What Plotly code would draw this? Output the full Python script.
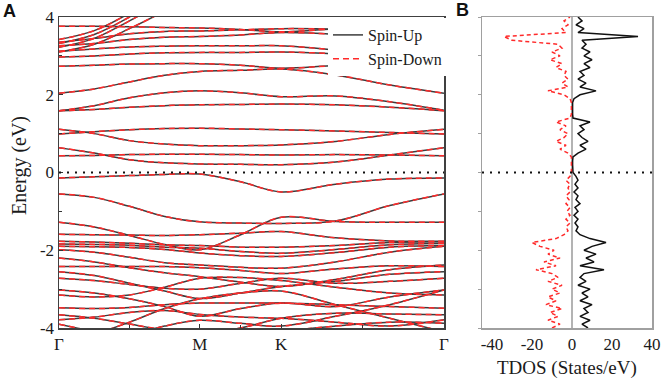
import plotly.graph_objects as go

# ---------------- band structure data (energy in eV along k-path) ----------------
k_path = [0.0, 0.25, 0.5, 0.75, 1.0, 1.289, 1.577, 1.962, 2.347, 2.732]
k_ticks = [0.0, 1.0, 1.577, 2.732]
k_labels = ['Γ', 'M', 'K', 'Γ']
k_minor = [0.5, 1.289, 2.155]

# conduction bands
cb_01 = [0.64, 0.50, 0.33, 0.25, 0.22, 0.21, 0.20, 0.27, 0.45, 0.64]
cb_02 = [0.43, 0.44, 0.46, 0.47, 0.47, 0.46, 0.45, 0.46, 0.45, 0.43]
cb_03 = [1.11, 1.00, 0.82, 0.73, 0.69, 0.69, 0.71, 0.80, 0.98, 1.11]
cb_04 = [0.99, 1.05, 1.10, 1.13, 1.14, 1.12, 1.10, 1.07, 1.03, 0.99]
cb_05 = [1.59, 1.62, 1.68, 1.72, 1.74, 1.75, 1.76, 1.74, 1.68, 1.59]
cb_06 = [1.59, 1.72, 1.92, 2.05, 2.10, 2.05, 1.95, 1.97, 1.82, 1.60]
cb_07 = [2.04, 2.15, 2.33, 2.50, 2.60, 2.63, 2.66, 2.51, 2.25, 2.04]
cb_08 = [2.73, 2.76, 2.79, 2.80, 2.80, 2.76, 2.68, 2.75, 2.79, 2.77]
cb_09 = [2.97, 3.00, 3.05, 3.08, 3.09, 3.09, 3.10, 3.05, 2.92, 2.79]
cb_10 = [3.12, 3.18, 3.23, 3.25, 3.26, 3.26, 3.26, 3.15, 3.00, 2.90]
cb_11 = [3.26, 3.32, 3.42, 3.48, 3.50, 3.54, 3.60, 3.55, 3.40, 3.20]
cb_12 = [3.35, 3.45, 3.57, 3.63, 3.64, 3.67, 3.70, 3.68, 3.58, 3.45]
cb_13 = [3.76, 3.76, 3.75, 3.73, 3.72, 3.68, 3.62, 3.70, 3.80, 3.85]
cb_14 = [3.10, 3.30, 3.70, 4.15, 4.60, 4.90, 5.10, 4.90, 4.50, 4.10]
cb_15 = [3.22, 3.45, 3.90, 4.40, 4.80, 5.10, 5.30, 5.10, 4.80, 4.40]
cb_16 = [3.32, 3.55, 4.00, 4.55, 5.00, 5.30, 5.50, 5.30, 5.00, 4.60]
cb_17 = [3.42, 3.65, 4.10, 4.70, 5.20, 5.50, 5.70, 5.50, 5.20, 4.80]

# valence bands
vb_01 = [-0.14, -0.11, -0.08, -0.05, -0.04, -0.24, -0.50, -0.30, -0.17, -0.14]
vb_02 = [-0.55, -0.64, -0.87, -1.13, -1.27, -1.30, -1.31, -1.25, -0.85, -0.55]
vb_03 = [-1.28, -1.40, -1.62, -1.85, -1.99, -1.60, -1.15, -1.26, -1.28, -1.28]
vb_04 = [-1.59, -1.60, -1.61, -1.62, -1.60, -1.56, -1.52, -1.68, -1.76, -1.77]
vb_05 = [-1.77, -1.79, -1.82, -1.86, -1.88, -1.92, -1.92, -1.88, -1.80, -1.78]
vb_06 = [-1.84, -1.85, -1.87, -1.92, -1.95, -2.03, -2.08, -1.98, -1.86, -1.82]
vb_07 = [-1.90, -1.91, -1.93, -1.98, -2.07, -2.14, -2.16, -2.06, -1.92, -1.88]
vb_08 = [-1.99, -2.05, -2.18, -2.32, -2.38, -2.44, -2.46, -2.30, -2.05, -1.90]
vb_09 = [-2.20, -2.30, -2.45, -2.58, -2.68, -2.82, -2.93, -2.75, -2.50, -2.38]
vb_10 = [-2.42, -2.42, -2.42, -2.42, -2.45, -2.52, -2.60, -2.48, -2.40, -2.42]
vb_11 = [-2.55, -2.65, -2.85, -3.05, -3.24, -3.10, -2.93, -2.80, -2.62, -2.55]
vb_12 = [-2.72, -2.78, -2.88, -2.98, -3.00, -2.85, -2.72, -2.85, -2.80, -2.72]
vb_13 = [-3.02, -3.10, -3.25, -3.45, -3.70, -3.50, -3.36, -3.45, -3.20, -3.02]
vb_14 = [-3.15, -3.20, -3.15, -2.95, -2.72, -2.70, -2.78, -2.95, -3.10, -3.15]
vb_15 = [-3.48, -3.50, -3.47, -3.40, -3.36, -3.36, -3.36, -3.40, -3.45, -3.49]
vb_16 = [-3.66, -3.75, -3.90, -4.05, -4.15, -4.00, -3.75, -3.62, -3.64, -3.66]
vb_17 = [-3.79, -3.72, -3.60, -3.55, -3.65, -3.72, -3.75, -3.85, -3.95, -3.79]
vb_18 = [-4.30, -4.15, -3.85, -3.50, -3.25, -3.10, -3.05, -3.40, -3.75, -4.10]
vb_19 = [-3.90, -4.10, -4.30, -4.40, -4.40, -4.30, -4.10, -3.95, -3.85, -3.88]
vb_20 = [-4.50, -4.40, -4.20, -3.95, -3.80, -3.88, -3.95, -3.70, -3.40, -3.02]

spin_up_bands = [cb_01, cb_02, cb_03, cb_04, cb_05, cb_06, cb_07, cb_08, cb_09,
                 cb_10, cb_11, cb_12, cb_13, cb_14, cb_15, cb_16, cb_17,
                 vb_01, vb_02, vb_03, vb_04, vb_05, vb_06, vb_07, vb_08, vb_09,
                 vb_10, vb_11, vb_12, vb_13, vb_14, vb_15, vb_16, vb_17, vb_18,
                 vb_19, vb_20]
# spin-down bands coincide with spin-up bands in the figure
spin_down_bands = spin_up_bands

# ---------------- total DOS data ----------------
dos_energy = [-4.0, -3.9, -3.8, -3.7, -3.6, -3.5, -3.4, -3.3, -3.2, -3.1,
              -3.0, -2.9, -2.8, -2.7, -2.6, -2.5, -2.4, -2.3, -2.2, -2.1,
              -2.0, -1.9, -1.8, -1.7, -1.6, -1.5, -1.4, -1.3, -1.2, -1.1,
              -1.0, -0.9, -0.8, -0.7, -0.6, -0.5, -0.4, -0.3, -0.2, -0.1,
              0.0, 0.1, 0.2, 0.3, 0.4, 0.5, 0.6, 0.7, 0.8, 0.9,
              1.0, 1.1, 1.2, 1.3, 1.4, 1.5, 1.6, 1.7, 1.8, 1.9,
              2.0, 2.1, 2.2, 2.3, 2.4, 2.5, 2.6, 2.7, 2.8, 2.9,
              3.0, 3.1, 3.2, 3.3, 3.4, 3.5, 3.6, 3.7, 3.8, 3.9, 4.0]
dos_up = [8, 5, 9, 4, 8, 6, 10, 4, 8, 5,
          9, 3, 7, 4, 6, 16, 4, 11, 7, 12,
          6, 10, 17, 9, 4, 2, 3, 1.5, 3, 1,
          3, 1.5, 4, 2, 3, 1, 3, 1.5, 3, 2,
          0.5, 0.3, 0.3, 0.3, 0.5, 3, 7, 4, 8, 5,
          3, 6, 4, 9, 0.5, 0.3, 0.3, 0.5, 0.3, 1,
          4, 12, 4, 7, 3, 6, 4, 9, 6, 10,
          6, 9, 5, 7, 5, 33, 3, 6, 2, 5, 3]
dos_down = [-10, -6, -12, -7, -11, -5, -13, -8, -12, -6,
            -10, -5, -12, -7, -10, -18, -8, -14, -6, -12,
            -9, -16, -20, -8, -4, -2, -3, -1, -3, -1,
            -2.5, -1, -3, -1.5, -3, -1, -2, -1, -3, -1,
            -0.3, -0.3, -0.3, -0.3, -0.3, -2, -6, -3, -8, -4,
            -2, -6, -3, -8, -1, -0.3, -0.3, -0.3, -0.3, -1,
            -4, -12, -2, -5, -2, -4, -3, -8, -5, -11,
            -6, -10, -5, -7, -30, -34, -3, -5, -2, -4, -1]

# ---------------- figure ----------------
W, H = 671, 383
SERIF = 'Liberation Serif, Times New Roman, serif'
SANS = 'Liberation Sans, Arial, sans-serif'
UP_COLOR = '#3c3c3c'
DOWN_COLOR = '#ff2a2a'

fig = go.Figure()

for i, band in enumerate(spin_up_bands):
    fig.add_trace(go.Scatter(
        x=k_path, y=band, mode='lines', name='Spin-Up', legendgroup='up',
        showlegend=(i == 0), hoverinfo='skip',
        line=dict(color=UP_COLOR, width=1.5, shape='spline', smoothing=1.0),
        xaxis='x', yaxis='y'))
for i, band in enumerate(spin_down_bands):
    fig.add_trace(go.Scatter(
        x=k_path, y=band, mode='lines', name='Spin-Down', legendgroup='down',
        showlegend=(i == 0), hoverinfo='skip',
        line=dict(color=DOWN_COLOR, width=1.5, dash='6px,4px', shape='spline', smoothing=1.0),
        xaxis='x', yaxis='y'))

fig.add_trace(go.Scatter(
    x=dos_up, y=dos_energy, mode='lines', showlegend=False, hoverinfo='skip',
    line=dict(color='#111111', width=1.5), xaxis='x2', yaxis='y2'))
fig.add_trace(go.Scatter(
    x=dos_down, y=dos_energy, mode='lines', showlegend=False, hoverinfo='skip',
    line=dict(color=DOWN_COLOR, width=1.5, dash='4px,3px'), xaxis='x2', yaxis='y2'))

ydom = [1 - 328 / H, 1 - 17 / H]
tickfont = dict(family=SERIF, size=17, color='#1a1a1a')

fig.update_layout(
    width=W, height=H,
    margin=dict(l=0, r=0, t=0, b=0, pad=0, autoexpand=False),
    paper_bgcolor='white', plot_bgcolor='white',
    font=dict(family=SERIF, color='#1a1a1a'),
    hovermode=False,
    xaxis=dict(domain=[59 / W, 444 / W], range=[0, 2.732], anchor='y', automargin=False,
               tickmode='array', tickvals=k_ticks, ticktext=k_labels,
               ticks='inside', ticklen=4, tickcolor='#333', tickwidth=1,
               minor=dict(tickvals=k_minor, ticks='inside', ticklen=3, tickcolor='#333'),
               showline=True, linecolor='#404040', linewidth=1.5, mirror=True,
               showgrid=False, zeroline=False, tickfont=tickfont),
    yaxis=dict(domain=ydom, range=[-4, 4], anchor='x', automargin=False,
               tickmode='array', tickvals=[-4, -2, 0, 2, 4],
               ticktext=['-4', '-2', '0', '2', '4'],
               ticks='inside', ticklen=4, tickcolor='#333',
               minor=dict(dtick=1, ticks='inside', ticklen=3, tickcolor='#333'),
               showline=True, linecolor='#404040', linewidth=1.5, mirror=True,
               showgrid=False, zeroline=False, tickfont=tickfont),
    xaxis2=dict(domain=[482 / W, 652 / W], range=[-45, 40], anchor='y2', automargin=False,
                tickmode='array', tickvals=[-40, -20, 0, 20, 40],
                ticktext=['-40', '-20', '0', '20', '40'], ticks='',
                showline=True, linecolor='#a0a0a0', linewidth=1.5, mirror=True,
                showgrid=False, zeroline=False, tickfont=tickfont),
    yaxis2=dict(domain=ydom, range=[-4, 4], anchor='x2', dtick=1, automargin=False,
                showticklabels=False, ticks='outside', ticklen=3, tickcolor='#a0a0a0',
                showline=True, linecolor='#a0a0a0', linewidth=1.5, mirror=True,
                showgrid=False, zeroline=False),
    legend=dict(x=447 / W, xanchor='right', y=1 - 18 / H, yanchor='top',
                bgcolor='white', borderwidth=0, tracegroupgap=0,
                font=dict(family=SERIF, size=16, color='#1a1a1a')),
    showlegend=True,
)

# zero-energy reference lines and DOS axis line
fig.add_shape(type='line', xref='x', yref='y', x0=0, x1=2.732, y0=0, y1=0,
              line=dict(color='#111', width=2, dash='2px,6px'))
fig.add_shape(type='line', xref='x2', yref='y2', x0=-45, x1=40, y0=0, y1=0,
              line=dict(color='#111', width=2, dash='2px,6px'))
fig.add_shape(type='line', xref='x2', yref='y2', x0=0, x1=0, y0=-4, y1=4,
              line=dict(color='#9a9a9a', width=1.5), layer='below')

# text labels
def label(px, py, text, font, angle=0):
    fig.add_annotation(x=px / W, y=1 - py / H, xref='paper', yref='paper', text=text,
                       xanchor='center', yanchor='middle', textangle=angle,
                       showarrow=False, font=font)

label(9, 11, '<b>A</b>', dict(family=SANS, size=18, color='#111'))
label(462, 10, '<b>B</b>', dict(family=SANS, size=18, color='#111'))
label(20, 166, 'Energy (eV)', dict(family=SERIF, size=20, color='#1a1a1a'), angle=-90)
label(567, 368, 'TDOS (States/eV)', dict(family=SERIF, size=19, color='#1a1a1a'))

fig.write_html('out.html',
               config={'displayModeBar': False, 'staticPlot': True},
               post_script="document.body.style.margin='0px';document.body.style.overflow='hidden';")
